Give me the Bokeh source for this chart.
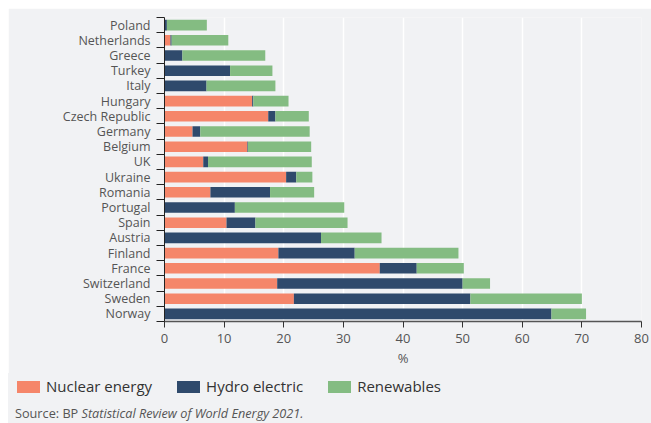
from bokeh.plotting import figure
from bokeh.models import Range1d, FixedTicker, Div
from bokeh.layouts import column
from bokeh.embed import file_html
from bokeh.resources import INLINE

# Countries listed bottom -> top
countries = ["Norway", "Sweden", "Switzerland", "France", "Finland", "Austria",
             "Spain", "Portugal", "Romania", "Ukraine", "UK", "Belgium",
             "Germany", "Czech Republic", "Hungary", "Italy", "Turkey",
             "Greece", "Netherlands", "Poland"]
nuclear = [0, 21.7, 18.9, 36.1, 19.1, 0, 10.4, 0, 7.7, 20.4, 6.5, 13.9,
           4.7, 17.4, 14.7, 0, 0, 0, 1.0, 0]
hydro = [64.9, 29.6, 31.1, 6.2, 12.8, 26.25, 4.85, 11.8, 10.0, 1.7, 0.8, 0.1,
         1.3, 1.2, 0.2, 7.05, 11.0, 3.0, 0.2, 0.4]
renewables = [5.8, 18.7, 4.6, 7.9, 17.4, 10.15, 15.45, 18.35, 7.4, 2.7, 17.4,
              10.6, 18.35, 5.6, 5.9, 11.55, 7.1, 13.9, 9.5, 6.7]
series_names = ["Nuclear energy", "Hydro electric", "Renewables"]
x_ticks = [0, 10, 20, 30, 40, 50, 60, 70, 80]
source_prefix = "Source: BP"
source_title = "Statistical Review of World Energy 2021."

BG = "#f1f2f4"
COLORS = ["#f5866a", "#2f4a6c", "#84bc82"]
FONT = "Open Sans"

n = len(countries)
ypos = [i + 0.5 for i in range(n)]

p = figure(width=643, height=365, output_backend="svg", toolbar_location=None,
           x_range=Range1d(0, 80), y_range=Range1d(0, n),
           min_border_left=156, min_border_right=10, min_border_top=9,
           min_border_bottom=52)
p.background_fill_color = BG
p.border_fill_color = BG
p.outline_line_color = None

data = dict(y=ypos, nuclear=nuclear, hydro=hydro, renewables=renewables)
rs = p.hbar_stack(["nuclear", "hydro", "renewables"], y="y", height=0.7,
                  color=COLORS, line_color=None, source=data)

# grid
p.ygrid.visible = False
p.xgrid.ticker = FixedTicker(ticks=x_ticks)
p.xgrid.grid_line_color = "white"
p.xgrid.grid_line_width = 1.5

# x axis
xa = p.xaxis[0]
xa.ticker = FixedTicker(ticks=x_ticks)
xa.axis_label = "%"
xa.axis_label_text_font = FONT
xa.axis_label_text_font_style = "normal"
xa.axis_label_text_font_size = "13px"
xa.axis_label_text_color = "#555555"
xa.axis_label_standoff = 3
xa.major_label_text_font = FONT
xa.major_label_text_font_size = "13px"
xa.major_label_text_color = "#555555"
xa.major_label_standoff = 6
xa.axis_line_color = "#555555"
xa.axis_line_width = 1.5
xa.major_tick_line_color = "#333333"
xa.major_tick_out = 6
xa.major_tick_in = 0
xa.minor_tick_line_color = None

# y axis: labels at centres, tick marks at category boundaries
ya = p.yaxis[0]
ya.ticker = FixedTicker(ticks=ypos, minor_ticks=list(range(n + 1)))
ya.major_label_overrides = {y: c for y, c in zip(ypos, countries)}
ya.major_label_text_font = FONT
ya.major_label_text_font_size = "12.5px"
ya.major_label_text_color = "#555555"
ya.major_label_standoff = 6
ya.major_tick_line_color = None
ya.major_tick_out = 8
ya.major_tick_in = 0
ya.minor_tick_line_color = "#222222"
ya.minor_tick_out = 8
ya.minor_tick_in = 0
ya.axis_line_color = "#222222"

# legend + source (HTML strip under the chart)
items_html = "".join(
    f'<span style="display:inline-block;width:23px;height:12px;background:{c};'
    f'margin-right:6px"></span>'
    f'<span style="font-size:15px;color:#333333;margin-right:25px">{s}</span>'
    for s, c in zip(series_names, COLORS))
html = (
    f'<div style="display:flex;align-items:center;height:27px;padding-left:9px">'
    f'{items_html}</div>'
    f'<div style="height:23px;line-height:27px;padding-left:7px;font-size:12.7px;'
    f'color:#555555">{source_prefix} <i>{source_title}</i></div>'
)
div = Div(text=html, width=643, height=50, margin=0,
          styles={"background-color": BG, "font-family": "'Open Sans'",
                  "box-sizing": "border-box", "overflow": "hidden"})

layout = column(p, div, spacing=0, margin=(8, 0, 0, 8))

open("out.html", "w").write(file_html(layout, INLINE))
